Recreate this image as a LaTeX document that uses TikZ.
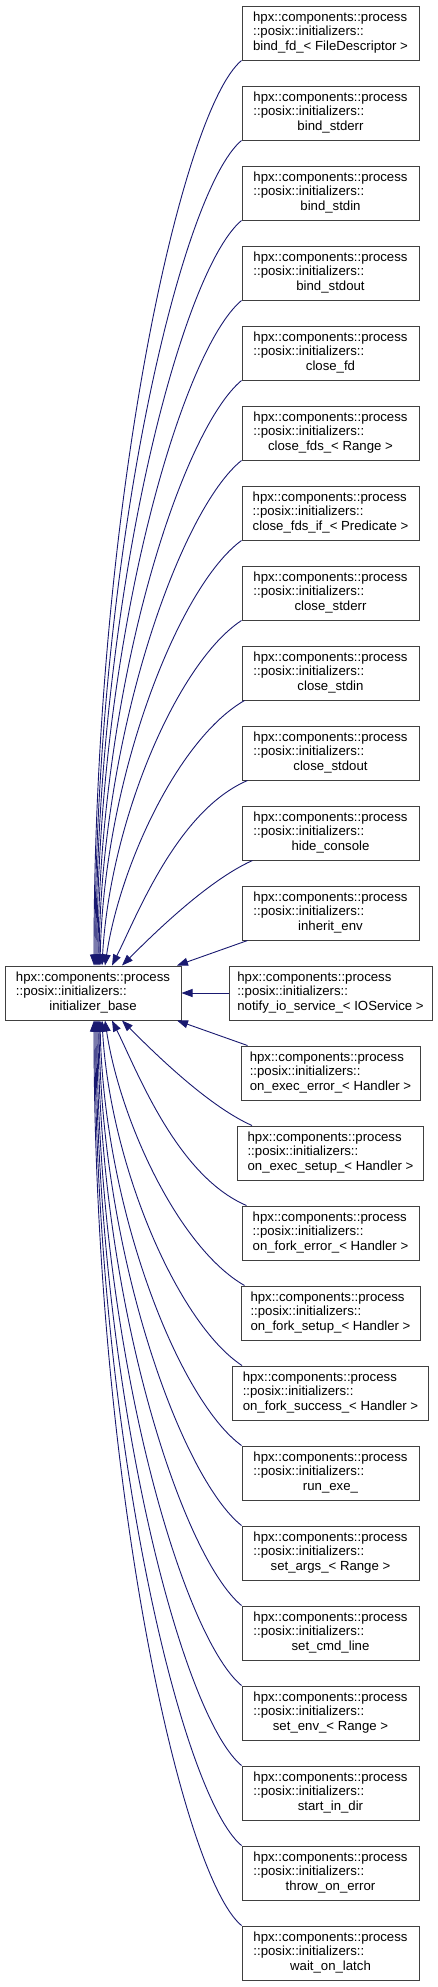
\documentclass[tikz,border=0pt]{standalone}
\usepackage{fontspec}
\setmainfont{Liberation Sans}
\usetikzlibrary{arrows.meta}
\definecolor{edgeblue}{HTML}{191970}
\newcommand{\lbl}[1]{\begin{tabular}{@{}l@{}}hpx::components::process\\::posix::initializers::\\\multicolumn{1}{@{}c@{}}{#1}\end{tabular}}
\newcommand{\upedge}[5]{\draw[conn] ([xshift=#2pt]#1.south west) .. controls +(#4) and +(#5) .. (#3,0 |- base.north);}
\newcommand{\downedge}[5]{\draw[conn] ([xshift=#2pt]#1.north west) .. controls +(#4) and +(#5) .. (#3,0 |- base.south);}
\begin{document}
\begin{tikzpicture}[x=1pt,y=-1pt,
  cbox/.style={draw=black!75, line width=1pt, minimum height=54pt, minimum width=177pt, inner sep=0pt, fill=white, font=\fontsize{13.2}{14.7}\selectfont},
  conn/.style={draw=edgeblue, line width=0.9pt, -{Triangle[length=11pt,width=8pt]}}]
\useasboundingbox (0,0) rectangle (437,1987);
\node[cbox, minimum width=176pt] (base) at (93,993) {\lbl{initializer\_base}};
\node[cbox] (c0) at (330.5,33) {\lbl{bind\_fd\_< FileDescriptor >}};
\node[cbox] (c1) at (330.5,113) {\lbl{bind\_stderr}};
\node[cbox] (c2) at (330.5,193) {\lbl{bind\_stdin}};
\node[cbox] (c3) at (330.5,273) {\lbl{bind\_stdout}};
\node[cbox] (c4) at (330.5,353) {\lbl{close\_fd}};
\node[cbox] (c5) at (330.5,433) {\lbl{close\_fds\_< Range >}};
\node[cbox] (c6) at (330.5,513) {\lbl{close\_fds\_if\_< Predicate >}};
\node[cbox] (c7) at (330.5,593) {\lbl{close\_stderr}};
\node[cbox] (c8) at (330.5,673) {\lbl{close\_stdin}};
\node[cbox] (c9) at (330.5,753) {\lbl{close\_stdout}};
\node[cbox] (c10) at (330.5,833) {\lbl{hide\_console}};
\node[cbox] (c11) at (330.5,913) {\lbl{inherit\_env}};
\node[cbox, minimum width=203pt] (c12) at (330.5,993) {\lbl{notify\_io\_service\_< IOService >}};
\node[cbox, minimum width=179pt] (c13) at (330.5,1073) {\lbl{on\_exec\_error\_< Handler >}};
\node[cbox, minimum width=186pt] (c14) at (330.5,1153) {\lbl{on\_exec\_setup\_< Handler >}};
\node[cbox] (c15) at (330.5,1233) {\lbl{on\_fork\_error\_< Handler >}};
\node[cbox, minimum width=179pt] (c16) at (330.5,1313) {\lbl{on\_fork\_setup\_< Handler >}};
\node[cbox, minimum width=196pt] (c17) at (330.5,1393) {\lbl{on\_fork\_success\_< Handler >}};
\node[cbox] (c18) at (330.5,1473) {\lbl{run\_exe\_}};
\node[cbox] (c19) at (330.5,1553) {\lbl{set\_args\_< Range >}};
\node[cbox] (c20) at (330.5,1633) {\lbl{set\_cmd\_line}};
\node[cbox] (c21) at (330.5,1713) {\lbl{set\_env\_< Range >}};
\node[cbox] (c22) at (330.5,1793) {\lbl{start\_in\_dir}};
\node[cbox] (c23) at (330.5,1873) {\lbl{throw\_on\_error}};
\node[cbox] (c24) at (330.5,1953) {\lbl{wait\_on\_latch}};
\upedge{c0}{0}{94}{-60,50}{0,-460}
\upedge{c1}{0}{95}{-60,50}{0,-415}
\upedge{c2}{0}{96}{-60,50}{0,-370}
\upedge{c3}{0}{97}{-60,50}{0,-325}
\upedge{c4}{0}{98}{-60,50}{1,-280}
\upedge{c5}{0}{99}{-60,48}{2,-235}
\upedge{c6}{0}{100}{-62,45}{4,-190}
\upedge{c7}{0}{102}{-64,42}{8,-145}
\upedge{c8}{3}{105}{-66,38}{15,-100}
\upedge{c9}{6}{112}{-70,30}{25,-50}
\upedge{c10}{11}{122}{-45,20}{30,-30}
\draw[conn] ([xshift=6pt]c11.south west) -- (177,0 |- base.north);
\draw[conn] (c12.west) -- (base.east);
\draw[conn] ([xshift=7pt]c13.north west) -- (177,0 |- base.south);
\downedge{c14}{15}{122}{-45,-20}{30,30}
\downedge{c15}{5}{112}{-70,-30}{25,50}
\downedge{c16}{4}{105}{-66,-38}{15,100}
\downedge{c17}{10}{102}{-64,-42}{8,145}
\downedge{c18}{0}{100}{-62,-45}{4,190}
\downedge{c19}{0}{99}{-60,-48}{2,235}
\downedge{c20}{0}{98}{-60,-50}{1,280}
\downedge{c21}{0}{97}{-60,-50}{0,325}
\downedge{c22}{0}{96}{-60,-50}{0,370}
\downedge{c23}{0}{95}{-60,-50}{0,415}
\downedge{c24}{0}{94}{-60,-50}{0,460}
\end{tikzpicture}
\end{document}
